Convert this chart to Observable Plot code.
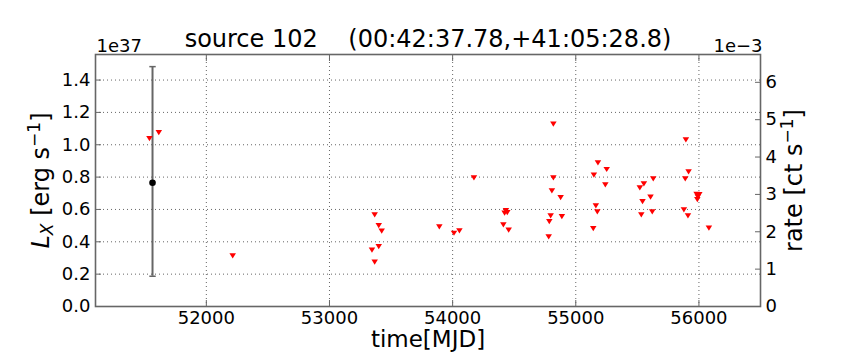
<!DOCTYPE html>
<html><head><meta charset="utf-8">
<script src="https://cdn.jsdelivr.net/npm/d3@7"></script>
<script src="https://cdn.jsdelivr.net/npm/@observablehq/plot@0.6"></script>
<style>
html,body{margin:0;padding:0;background:#fff;}
</style></head>
<body><div id="chart"></div>
<script>
// ---- data (luminosity in units of 1e37 erg/s) ----
const ulMJD = [51538, 51614, 52214, 53345, 53367, 53367, 53400, 53400, 53424, 53892,
  54011, 54055, 54173, 54412, 54422, 54433, 54444, 54455, 54780, 54785,
  54796, 54806, 54818, 54818, 54877, 54887, 55142, 55147, 55163, 55175,
  55180, 55240, 55251, 55520, 55532, 55542, 55553, 55607, 55621, 55629,
  55878, 55889, 55894, 55911, 55916, 55981, 55987, 55991, 56003, 56081];
const ulLum = [1.038, 1.075, 0.313, 0.348, 0.566, 0.274, 0.500, 0.370, 0.466, 0.492,
  0.453, 0.468, 0.795, 0.505, 0.577, 0.593, 0.581, 0.472, 0.430, 0.525,
  0.560, 0.715, 1.127, 0.795, 0.673, 0.556, 0.482, 0.812, 0.622, 0.585,
  0.888, 0.752, 0.847, 0.733, 0.566, 0.649, 0.758, 0.676, 0.585, 0.789,
  0.597, 0.789, 1.030, 0.560, 0.832, 0.694, 0.661, 0.678, 0.692, 0.484];
const detMJD = [51563];
const detLum = [0.765];
const detLow = [0.187];
const detHigh = [1.483];

const xTicks = [52000, 53000, 54000, 55000, 56000];
const yTicks = [0, 0.2, 0.4, 0.6, 0.8, 1.0, 1.2, 1.4];
const rateTicks = [0, 1, 2, 3, 4, 5, 6];      // units of 1e-3 ct/s
const rateToLum = 0.231;                      // 1e-3 ct/s -> 1e37 erg/s
const xDomain = [51100, 56500];
const yDomain = [0, 1.558];

const titleText = "source 102\u00a0\u00a0\u00a0\u00a0(00:42:37.78,+41:05:28.8)";
const xLabel = "time[MJD]";
const yLabel = "LX_LABEL";
const rLabel = "RATE_LABEL";
const leftOffset = "1e37";
const rightOffset = "1e\u22123";

// ---- tables ----
const ul = ulMJD.map((m, i) => ({mjd: m, lum: ulLum[i]}));
const det = detMJD.map((m, i) => ({mjd: m, lum: detLum[i], low: detLow[i], high: detHigh[i]}));

const downTriangle = {
  draw(ctx, size) {
    const r = Math.sqrt(size / Math.PI);
    const a = r * 1.25, h = r * 1.0;
    ctx.moveTo(-a, -h);
    ctx.lineTo(a, -h);
    ctx.lineTo(0, h);
    ctx.closePath();
  }
};
const capSymbol = {
  draw(ctx, size) {
    const r = Math.sqrt(size / Math.PI);
    ctx.moveTo(-r, 0);
    ctx.lineTo(r, 0);
  }
};

const axisColor = "#666";
const gridColor = "#666";

const chart = Plot.plot({
  width: 864,
  height: 360,
  marginLeft: 95,
  marginRight: 104,
  marginTop: 54,
  marginBottom: 54,
  style: {fontFamily: "DejaVu Sans", fontSize: "18px", color: "black", background: "white"},
  x: {domain: xDomain},
  y: {domain: yDomain},
  marks: [
    Plot.gridX({ticks: xTicks, stroke: gridColor, strokeOpacity: 1, strokeDasharray: "1,3"}),
    Plot.gridY({ticks: yTicks, stroke: gridColor, strokeOpacity: 1, strokeDasharray: "1,3"}),
    // tick labels
    Plot.axisX({ticks: xTicks, tickSize: 0, tickPadding: 5, tickFormat: d => String(d), label: null, fontSize: 18}),
    Plot.axisY({ticks: yTicks, tickSize: 0, tickPadding: 5, tickFormat: d => d.toFixed(1), label: null, fontSize: 18}),
    Plot.axisY({anchor: "right", ticks: rateTicks.map(r => r * rateToLum), tickSize: 0, tickPadding: 5,
      tickFormat: d => String(Math.round(d / rateToLum)), label: null, fontSize: 18}),
    // inward tick marks
    Plot.axisX({ticks: xTicks, tickSize: -6, fill: "none", stroke: axisColor, label: null}),
    Plot.axisX({anchor: "top", ticks: xTicks, tickSize: -6, fill: "none", stroke: axisColor, label: null}),
    Plot.axisY({ticks: yTicks, tickSize: -6, fill: "none", stroke: axisColor, label: null}),
    Plot.axisY({anchor: "right", ticks: rateTicks.map(r => r * rateToLum), tickSize: -6, fill: "none", stroke: axisColor, label: null}),
    Plot.frame({stroke: axisColor, strokeWidth: 1.6}),
    // detection with error bar
    Plot.ruleX(det, {x: "mjd", y1: "low", y2: "high", stroke: "#666", strokeWidth: 2}),
    Plot.dot(det, {x: "mjd", y: "low", symbol: capSymbol, r: 3.2, stroke: "#666", strokeWidth: 1.5, fill: "none"}),
    Plot.dot(det, {x: "mjd", y: "high", symbol: capSymbol, r: 3.2, stroke: "#666", strokeWidth: 1.5, fill: "none"}),
    Plot.dot(det, {x: "mjd", y: "lum", r: 3.3, fill: "black", stroke: "none"}),
    // upper limits
    Plot.dot(ul, {x: "mjd", y: "lum", symbol: downTriangle, r: 2.6, fill: "#ff0000", stroke: "none"}),
    // texts
    Plot.text([titleText], {frameAnchor: "top", dy: -8, lineAnchor: "bottom", fontSize: 24, fill: "black"}),
    Plot.text([leftOffset], {frameAnchor: "top-left", dy: -3, dx: 1, textAnchor: "start", lineAnchor: "bottom", fontSize: 18, fill: "black"}),
    Plot.text([rightOffset], {frameAnchor: "top-right", dy: -3, dx: 2, textAnchor: "end", lineAnchor: "bottom", fontSize: 18, fill: "black"}),
    Plot.text([xLabel], {frameAnchor: "bottom", dy: 40, lineAnchor: "bottom", fontSize: 23, fill: "black"}),
    Plot.text([yLabel], {frameAnchor: "left", dx: -47, rotate: -90, lineAnchor: "bottom", textAnchor: "middle", fontSize: 24, fill: "black"}),
    Plot.text([rLabel], {frameAnchor: "right", dx: 41, rotate: -90, lineAnchor: "bottom", textAnchor: "middle", fontSize: 24, fill: "black"})
  ]
});

// rich text for math-style labels
d3.select(chart).selectAll("text").each(function() {
  const t = this.textContent;
  if (t === yLabel) {
    this.innerHTML = '<tspan font-style="italic">L</tspan>' +
      '<tspan font-style="italic" font-size="17" dy="4">X</tspan>' +
      '<tspan dy="-4"> [erg s</tspan>' +
      '<tspan font-size="17" dy="-9">\u22121</tspan>' +
      '<tspan dy="9">]</tspan>';
  } else if (t === rLabel) {
    this.innerHTML = '<tspan>rate [ct s</tspan>' +
      '<tspan font-size="17" dy="-9">\u22121</tspan>' +
      '<tspan dy="9">]</tspan>';
  }
});

document.getElementById("chart").appendChild(chart);
</script>
</body></html>
